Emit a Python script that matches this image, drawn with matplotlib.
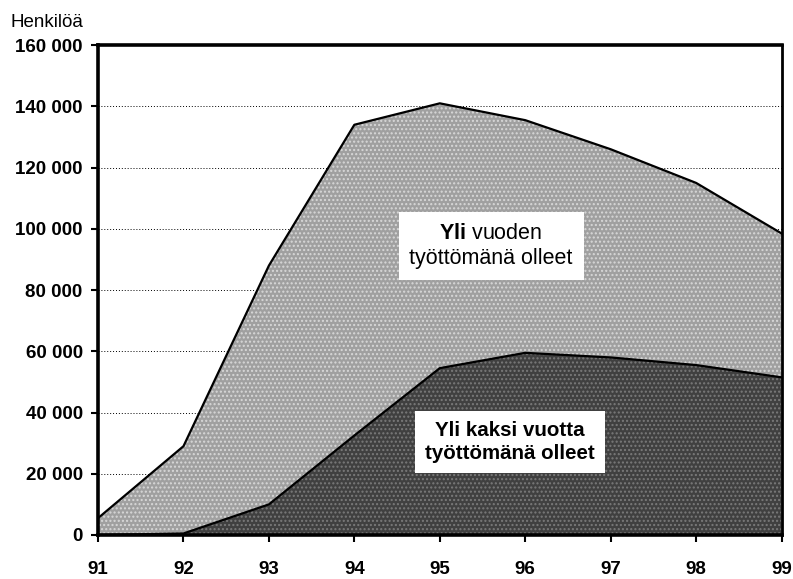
import matplotlib.pyplot as plt
from matplotlib.ticker import FuncFormatter

plt.rcParams["font.family"] = ["Liberation Sans", "DejaVu Sans"]
plt.rcParams["mathtext.fontset"] = "custom"
plt.rcParams["mathtext.bf"] = "Liberation Sans:bold"
plt.rcParams["mathtext.rm"] = "Liberation Sans"

years = [91, 92, 93, 94, 95, 96, 97, 98, 99]
over_one_year = [5500, 29000, 88000, 134000, 141000, 135500, 126000, 115000, 98500]
over_two_years = [0, 500, 10000, 32500, 54500, 59500, 58000, 55500, 51500]
y_ticks = [0, 20000, 40000, 60000, 80000, 100000, 120000, 140000, 160000]

fig = plt.figure(figsize=(7.93, 5.79), dpi=100)
ax = fig.add_axes([0.1236, 0.076, 0.862, 0.846])

ax.set_axisbelow(True)
ax.grid(axis="y", color="black", linestyle=(0, (1, 2)), linewidth=0.7)

ax.fill_between(years, 0, over_one_year, facecolor="#a0a0a0", hatch="....",
                edgecolor="#d8d8d8", linewidth=0, zorder=2)
ax.plot(years, over_one_year, color="black", linewidth=1.6, zorder=4)
ax.fill_between(years, 0, over_two_years, facecolor="#404040", hatch="....",
                edgecolor="#7a7a7a", linewidth=0, zorder=3)
ax.plot(years, over_two_years, color="black", linewidth=1.6, zorder=4)

ax.set_xlim(91, 99)
ax.set_ylim(0, 160000)
ax.set_xticks(years)
ax.set_yticks(y_ticks)
ax.yaxis.set_major_formatter(FuncFormatter(lambda v, p: f"{int(v):,}".replace(",", " ")))
ax.tick_params(axis="both", direction="out", length=5, width=1.5, labelsize=13.5)
ax.tick_params(axis="x", pad=14)
ax.tick_params(axis="y", pad=6)
for lab in ax.get_xticklabels() + ax.get_yticklabels():
    lab.set_fontweight("bold")

for side in ["left", "bottom", "top"]:
    ax.spines[side].set_linewidth(2.6)
ax.spines["right"].set_linewidth(2.0)
for s in ax.spines.values():
    s.set_zorder(6)

fig.text(0.013, 0.962, "Henkilöä", fontsize=13.5, ha="left", va="center")

box = dict(boxstyle="square,pad=0.5", facecolor="white", edgecolor="none")
ax.text(95.60, 94400, r"$\mathbf{Yli}$ vuoden" + "\ntyöttömänä olleet", fontsize=15.5,
        ha="center", va="center", linespacing=1.25, bbox=box, zorder=7)
ax.text(95.82, 30400, "Yli kaksi vuotta\ntyöttömänä olleet", fontsize=14.8,
        fontweight="bold", ha="center", va="center", linespacing=1.25, bbox=box, zorder=7)

fig.savefig("out.png", dpi=100)
